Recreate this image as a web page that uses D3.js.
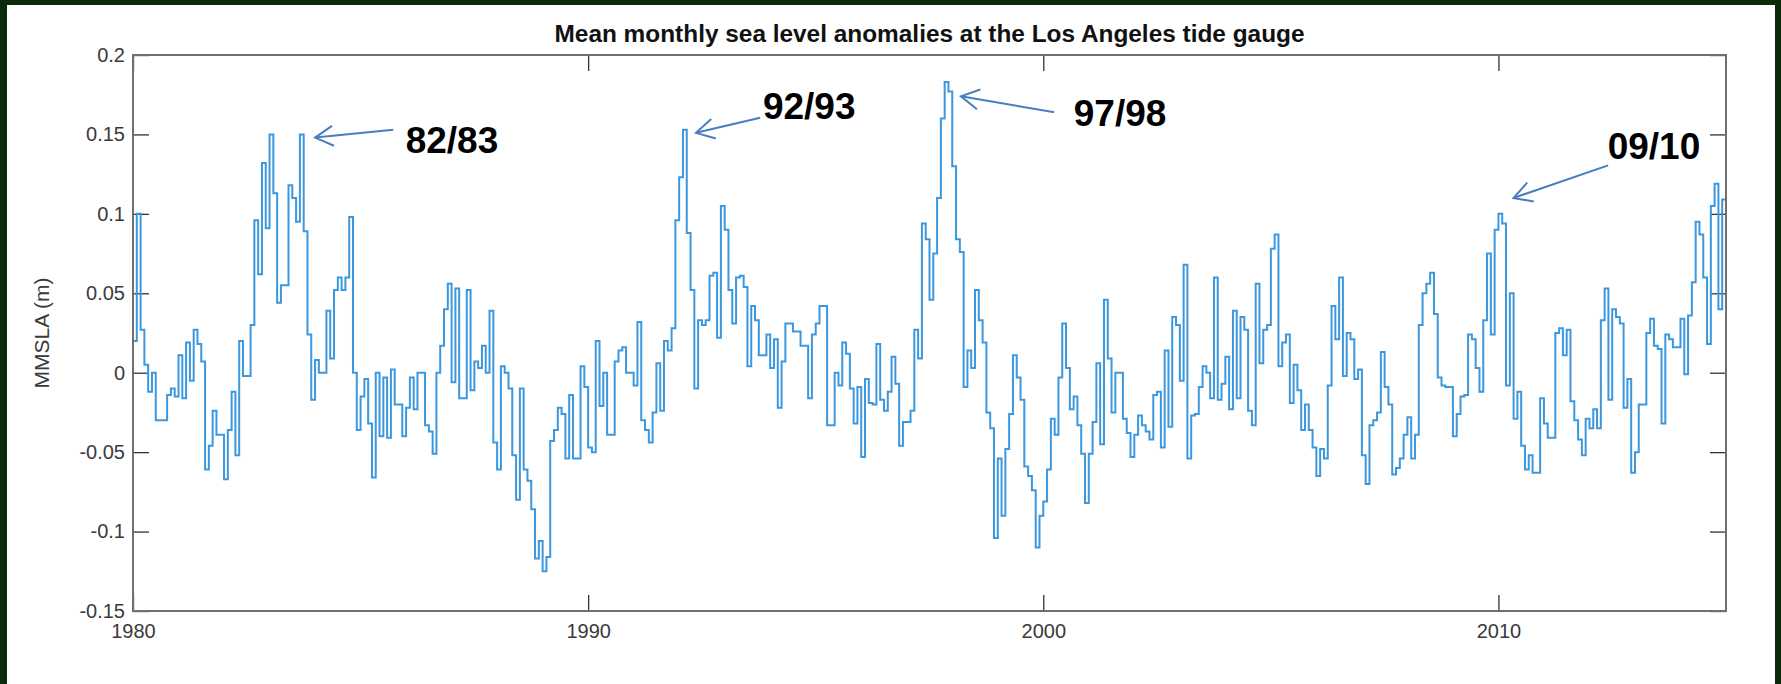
<!DOCTYPE html>
<html>
<head>
<meta charset="utf-8">
<script src="https://cdn.jsdelivr.net/npm/d3@7"></script>
<style>
body { margin: 0; background: #0b2a0b; }
svg { display: block; }
text { font-family: "Liberation Sans", Arial, Helvetica, sans-serif; }
</style>
</head>
<body>
<div id="chart"></div>
<script>
// monthly mean sea level anomaly (m), one row per year, starting Jan 1980
var startYear = 1980;

var sla1980s = [
    0.02, 0.1, 0.027, 0.005, -0.012, 0.0, -0.03, -0.03, -0.03, -0.014, -0.01, -0.015,
    0.011, -0.016, 0.019, -0.005, 0.027, 0.018, 0.007, -0.061, -0.046, -0.024, -0.039, -0.039,
    -0.067, -0.036, -0.012, -0.052, 0.02, -0.002, -0.002, 0.03, 0.096, 0.062, 0.132, 0.091,
    0.15, 0.113, 0.044, 0.055, 0.055, 0.118, 0.11, 0.095, 0.15, 0.089, 0.024, -0.017,
    0.008, 0.0, 0.0, 0.039, 0.009, 0.052, 0.06, 0.052, 0.06, 0.098, 0.0, -0.036,
    -0.015, -0.004, -0.032, -0.066, 0.0, -0.04, -0.003, -0.041, 0.002, -0.02, -0.02, -0.04,
    -0.022, -0.003, -0.023, 0.0, 0.0, -0.033, -0.037, -0.051, 0.0, 0.017, 0.04, 0.056,
    -0.006, 0.053, -0.016, -0.016, 0.052, -0.011, 0.007, 0.003, 0.017, 0.0, 0.039, -0.044,
    -0.061, 0.004, 0.0, -0.01, -0.052, -0.08, -0.01, -0.061, -0.068, -0.086, -0.117, -0.106,
    -0.125, -0.116, -0.043, -0.036, -0.022, -0.026, -0.054, -0.014, -0.054, -0.054, 0.004, -0.009
];
var sla1990s = [
    -0.047, -0.05, 0.02, -0.021, 0.0, -0.039, -0.039, 0.007, 0.014, 0.016, 0.0, 0.0,
    -0.008, 0.032, -0.03, -0.036, -0.044, -0.025, 0.006, -0.024, 0.02, 0.014, 0.028, 0.096,
    0.123, 0.153, 0.088, 0.052, -0.01, 0.033, 0.03, 0.033, 0.061, 0.063, 0.022, 0.105,
    0.09, 0.052, 0.031, 0.06, 0.061, 0.054, 0.004, 0.042, 0.033, 0.011, 0.011, 0.024,
    0.003, 0.021, -0.022, 0.007, 0.031, 0.031, 0.026, 0.026, 0.017, 0.017, -0.016, 0.024,
    0.031, 0.042, 0.042, -0.033, -0.033, 0.0, -0.008, 0.019, 0.012, -0.01, -0.032, -0.009,
    -0.053, -0.004, -0.019, -0.02, 0.018, -0.017, -0.024, -0.012, 0.01, -0.007, -0.046, -0.031,
    -0.031, -0.024, 0.027, 0.009, 0.094, 0.084, 0.046, 0.075, 0.11, 0.16, 0.183, 0.177,
    0.13, 0.084, 0.076, -0.009, 0.014, 0.003, 0.052, 0.033, 0.019, -0.025, -0.035, -0.104,
    -0.054, -0.09, -0.048, -0.026, 0.011, -0.003, -0.017, -0.059, -0.065, -0.074, -0.11, -0.09
];
var sla2000s = [
    -0.081, -0.061, -0.029, -0.039, -0.003, 0.031, 0.003, -0.023, -0.015, -0.033, -0.051, -0.082,
    -0.051, -0.031, 0.006, -0.045, 0.046, 0.009, -0.025, 0.0, 0.0, -0.029, -0.038, -0.053,
    -0.039, -0.027, -0.033, -0.037, -0.042, -0.014, -0.012, -0.047, 0.014, -0.034, 0.035, 0.03,
    -0.005, 0.068, -0.054, -0.027, -0.026, -0.009, 0.004, 0.0, -0.016, 0.06, -0.017, -0.007,
    0.01, -0.023, 0.039, -0.016, 0.035, 0.027, -0.024, -0.033, 0.056, 0.006, 0.027, 0.03,
    0.078, 0.087, 0.004, 0.019, 0.024, -0.019, 0.005, -0.011, -0.036, -0.02, -0.036, -0.047,
    -0.065, -0.048, -0.054, -0.008, 0.042, 0.021, 0.06, -0.002, 0.025, 0.021, -0.004, 0.002,
    -0.052, -0.07, -0.033, -0.03, -0.025, 0.013, -0.009, -0.02, -0.064, -0.06, -0.054, -0.039,
    -0.028, -0.054, -0.039, 0.03, 0.05, 0.056, 0.063, 0.037, -0.003, -0.008, -0.009, -0.009,
    -0.04, -0.026, -0.015, -0.014, 0.024, 0.021, 0.003, -0.012, 0.033, 0.075, 0.024, 0.09
];
var sla2010s = [
    0.1, 0.094, -0.008, 0.05, -0.029, -0.012, -0.046, -0.061, -0.052, -0.063, -0.063, -0.016,
    -0.032, -0.041, -0.041, 0.025, 0.028, 0.011, 0.027, -0.018, -0.03, -0.042, -0.052, -0.029,
    -0.035, -0.023, -0.035, 0.033, 0.053, -0.017, 0.04, 0.035, 0.031, -0.022, -0.004, -0.063,
    -0.05, -0.02, -0.02, 0.025, 0.034, 0.017, 0.015, -0.032, 0.024, 0.021, 0.016, 0.016,
    0.034, -0.001, 0.036, 0.057, 0.095, 0.087, 0.06, 0.018, 0.105, 0.119, 0.04, 0.109
];

var xTicks = [1980, 1990, 2000, 2010];
var yTicks = [-0.15, -0.1, -0.05, 0, 0.05, 0.1, 0.15, 0.2];
var yTickLabels = ['-0.15', '-0.1', '-0.05', '0', '0.05', '0.1', '0.15', '0.2'];

// El Nino call-outs: label, arrow tip, arrow tail, label anchor (year, metres)
var eventLabels = ['82/83', '92/93', '97/98', '09/10'];
var eventTips = [[1984.0, 0.148], [1992.37, 0.151], [1998.19, 0.174], [2010.33, 0.110]];
var eventTails = [[1985.72, 0.153], [1993.78, 0.1605], [2000.24, 0.164], [2012.41, 0.1305]];
var eventTexts = [[1985.99, 0.138], [1993.84, 0.160], [2000.67, 0.155], [2012.40, 0.1345]];

(function(){
    var W = 1781, H = 684;
    var margin = {top: 55, right: 55, bottom: 73, left: 133};
    var width = W - margin.left - margin.right;
    var height = H - margin.top - margin.bottom;

    var svg = d3.select('#chart').append('svg')
	.attr('width', W)
	.attr('height', H);

    // dark green slide frame + white panel
    svg.append('rect').attr('width', W).attr('height', H).attr('fill', '#0b2a0b');
    svg.append('rect').attr('x', 7).attr('y', 5).attr('width', 1768).attr('height', H - 5).attr('fill', '#ffffff');

    var g = svg.append('g').attr('transform', 'translate(' + margin.left + ',' + margin.top + ')');

    var x = d3.scaleLinear().domain([1980, 2015]).range([0, width]);
    var y = d3.scaleLinear().domain([-0.15, 0.2]).range([height, 0]);

    var values = sla1980s.concat(sla1990s, sla2000s, sla2010s);
    var points = values.map(function(v, i){ return {t: startYear + i / 12, v: v}; });
    points.push({t: startYear + values.length / 12, v: values[values.length - 1]});

    var tickColor = '#333333', labelColor = '#3a3a3a';

    function styleAxis(sel){
	sel.select('.domain').remove();
	sel.selectAll('.tick line').attr('stroke', tickColor).attr('stroke-width', 1.3);
	sel.selectAll('.tick text').attr('fill', labelColor).style('font-size', '20px')
	    .style('font-family', '"Liberation Sans", Arial, sans-serif');
    }

    g.append('g')
	.call(d3.axisLeft(y).tickValues(yTicks).tickSizeInner(-16).tickSizeOuter(0).tickPadding(8)
	      .tickFormat(function(d){ return yTickLabels[yTicks.indexOf(d)]; }))
	.call(styleAxis);
    g.append('g').attr('transform', 'translate(' + width + ',0)')
	.call(d3.axisRight(y).tickValues(yTicks).tickSizeInner(-16).tickSizeOuter(0).tickFormat(''))
	.call(styleAxis);
    g.append('g').attr('transform', 'translate(0,' + height + ')')
	.call(d3.axisBottom(x).tickValues(xTicks).tickSizeInner(-16).tickSizeOuter(0).tickPadding(13)
	      .tickFormat(d3.format('d')))
	.call(styleAxis);
    g.append('g')
	.call(d3.axisTop(x).tickValues(xTicks).tickSizeInner(-16).tickSizeOuter(0).tickFormat(''))
	.call(styleAxis);

    // the series, drawn as MATLAB-style stairs
    var line = d3.line()
	.curve(d3.curveStepAfter)
	.x(function(d){ return x(d.t); })
	.y(function(d){ return y(d.v); });
    g.append('path')
	.datum(points)
	.attr('d', line)
	.attr('fill', 'none')
	.attr('stroke', '#3b97de')
	.attr('stroke-width', 2)
	.attr('stroke-linejoin', 'miter');

    // axes box
    g.append('rect')
	.attr('width', width).attr('height', height)
	.attr('fill', 'none').attr('stroke', '#707070').attr('stroke-width', 2);

    svg.append('text')
	.attr('x', margin.left + width / 2).attr('y', 42)
	.attr('text-anchor', 'middle')
	.style('font-size', '24.4px').style('font-weight', 'bold').attr('fill', '#111')
	.text('Mean monthly sea level anomalies at the Los Angeles tide gauge');

    svg.append('text')
	.attr('transform', 'translate(49,' + (margin.top + height / 2) + ') rotate(-90)')
	.attr('text-anchor', 'middle')
	.style('font-size', '21px').attr('fill', labelColor)
	.text('MMSLA (m)');

    // call-out arrows
    svg.append('defs').append('marker')
	.attr('id', 'head').attr('markerUnits', 'userSpaceOnUse')
	.attr('viewBox', '-20 -12 22 24').attr('refX', 0).attr('refY', 0)
	.attr('markerWidth', 22).attr('markerHeight', 24).attr('orient', 'auto')
	.append('path').attr('d', 'M-18,-10L0,0L-18,10')
	.attr('fill', 'none').attr('stroke', '#4a7dc0').attr('stroke-width', 2);

    var ann = g.append('g');
    eventLabels.forEach(function(lbl, i){
	ann.append('line')
	    .attr('x1', x(eventTails[i][0])).attr('y1', y(eventTails[i][1]))
	    .attr('x2', x(eventTips[i][0])).attr('y2', y(eventTips[i][1]))
	    .attr('stroke', '#4a7dc0').attr('stroke-width', 2)
	    .attr('marker-end', 'url(#head)');
	ann.append('text')
	    .attr('x', x(eventTexts[i][0])).attr('y', y(eventTexts[i][1]))
	    .style('font-size', '37px').style('font-weight', 'bold').attr('fill', '#000')
	    .text(lbl);
    });
})();
</script>
</body>
</html>
